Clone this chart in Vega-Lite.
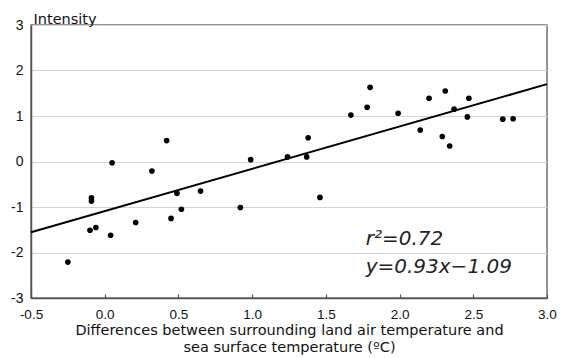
{
  "$schema": "https://vega.github.io/schema/vega-lite/v6.json",
  "width": 516,
  "height": 273,
  "autosize": {"type": "none"},
  "padding": {"left": 31, "top": 25, "right": 18, "bottom": 60},
  "background": "white",
  "config": {
    "font": "Liberation Sans",
    "view": {"stroke": "#707070", "strokeWidth": 1.5},
    "axis": {
      "labelFont": "Liberation Sans",
      "titleFont": "DejaVu Sans",
      "labelColor": "#111",
      "titleColor": "#111",
      "domainColor": "#555",
      "domainWidth": 1.5,
      "tickColor": "#555",
      "tickWidth": 1.2
    }
  },
  "datasets": {
    "pts": [
      {"dt": -0.25, "intensity": -2.21},
      {"dt": -0.10, "intensity": -1.51},
      {"dt": -0.09, "intensity": -0.80},
      {"dt": -0.09, "intensity": -0.87},
      {"dt": -0.06, "intensity": -1.45},
      {"dt": 0.04, "intensity": -1.62},
      {"dt": 0.05, "intensity": -0.03},
      {"dt": 0.21, "intensity": -1.34},
      {"dt": 0.32, "intensity": -0.21},
      {"dt": 0.42, "intensity": 0.46},
      {"dt": 0.45, "intensity": -1.25},
      {"dt": 0.49, "intensity": -0.70},
      {"dt": 0.52, "intensity": -1.05},
      {"dt": 0.65, "intensity": -0.65},
      {"dt": 0.92, "intensity": -1.01},
      {"dt": 0.99, "intensity": 0.04},
      {"dt": 1.24, "intensity": 0.10},
      {"dt": 1.37, "intensity": 0.10},
      {"dt": 1.38, "intensity": 0.52},
      {"dt": 1.46, "intensity": -0.79},
      {"dt": 1.67, "intensity": 1.02},
      {"dt": 1.78, "intensity": 1.19},
      {"dt": 1.80, "intensity": 1.63},
      {"dt": 1.99, "intensity": 1.06},
      {"dt": 2.14, "intensity": 0.69},
      {"dt": 2.20, "intensity": 1.39},
      {"dt": 2.29, "intensity": 0.55},
      {"dt": 2.31, "intensity": 1.55},
      {"dt": 2.34, "intensity": 0.34},
      {"dt": 2.37, "intensity": 1.15},
      {"dt": 2.46, "intensity": 0.98},
      {"dt": 2.47, "intensity": 1.39},
      {"dt": 2.70, "intensity": 0.93},
      {"dt": 2.77, "intensity": 0.94}
    ],
    "fit": [
      {"dt": -0.5, "intensity": -1.555},
      {"dt": 3.0, "intensity": 1.70}
    ],
    "notes": [
      {"dt": 1.77, "intensity": -1.71, "label": "r²=0.72"},
      {"dt": 1.77, "intensity": -2.31, "label": "y=0.93x−1.09"}
    ]
  },
  "layer": [
    {
      "data": {"name": "pts"},
      "mark": {"type": "point", "filled": true, "shape": "circle", "size": 32, "color": "black", "opacity": 1},
      "encoding": {
        "x": {
          "field": "dt", "type": "quantitative",
          "scale": {"domain": [-0.5, 3.0], "nice": false, "zero": false},
          "axis": {
            "values": [-0.5, 0, 0.5, 1, 1.5, 2, 2.5, 3],
            "format": ".1f",
            "labelExpr": "replace(datum.label, '−', '-')",
            "grid": false,
            "labelFontSize": 13.5,
            "labelPadding": 13,
            "tickSize": -4,
            "labelFlush": false,
            "title": ["Differences between surrounding land air temperature and", "sea surface temperature (ºC)"],
            "titleFontSize": 14.5,
            "titleFontWeight": "normal",
            "titlePadding": 3,
            "titleLineHeight": 17
          }
        },
        "y": {
          "field": "intensity", "type": "quantitative",
          "scale": {"domain": [-3, 3], "nice": false, "zero": false},
          "axis": {
            "values": [-3, -2, -1, 0, 1, 2, 3],
            "labelExpr": "replace(datum.label, '−', '-')",
            "grid": true,
            "gridColor": "#d4d4d4",
            "gridWidth": 1,
            "labelFontSize": 14,
            "labelPadding": 8,
            "tickSize": 0,
            "labelFlush": false,
            "title": "Intensity",
            "titleAngle": 0,
            "titleAlign": "left",
            "titleBaseline": "alphabetic",
            "titleX": 2,
            "titleY": -2,
            "titleFontSize": 14.5,
            "titleFontWeight": "normal"
          }
        }
      }
    },
    {
      "data": {"name": "fit"},
      "mark": {"type": "line", "color": "black", "strokeWidth": 2},
      "encoding": {
        "x": {"field": "dt", "type": "quantitative"},
        "y": {"field": "intensity", "type": "quantitative"}
      }
    },
    {
      "data": {"name": "notes"},
      "mark": {"type": "text", "align": "left", "baseline": "middle", "font": "DejaVu Sans", "fontSize": 20, "fontStyle": "italic", "color": "#222"},
      "encoding": {
        "x": {"field": "dt", "type": "quantitative"},
        "y": {"field": "intensity", "type": "quantitative"},
        "text": {"field": "label"}
      }
    }
  ]
}
